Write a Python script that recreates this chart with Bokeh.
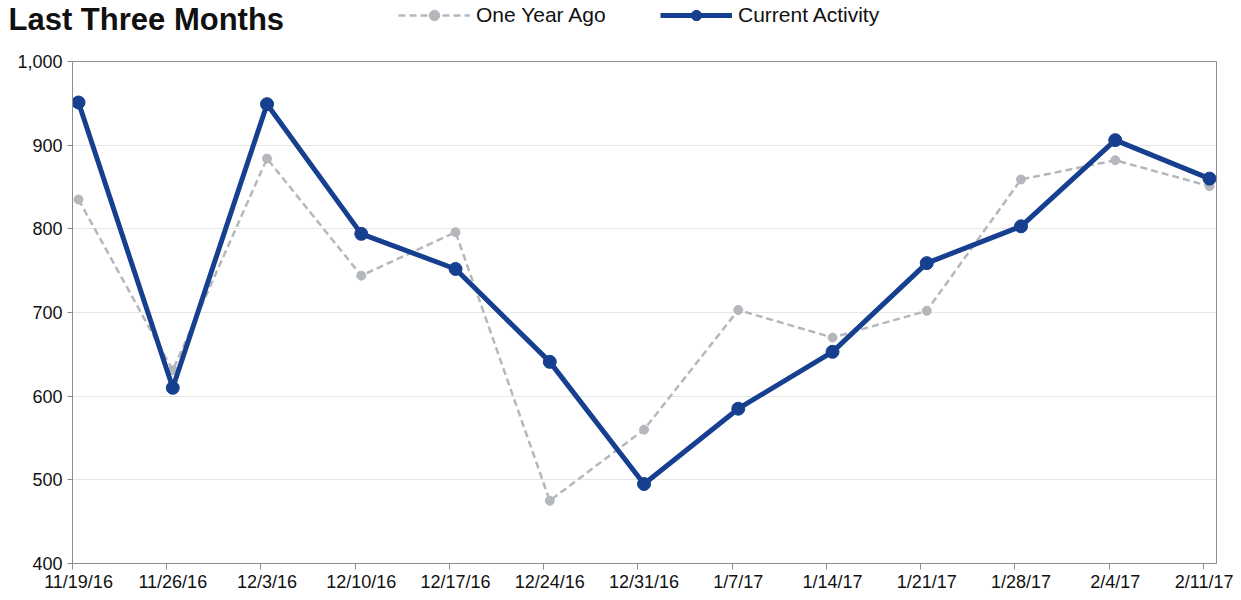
from bokeh.plotting import figure
from bokeh.layouts import column
from bokeh.models import (Legend, LegendItem, FixedTicker, NumeralTickFormatter,
                          Range1d, Label, LinearAxis, Plot)
from bokeh.embed import file_html
from bokeh.resources import INLINE

dates = ["11/19/16", "11/26/16", "12/3/16", "12/10/16", "12/17/16", "12/24/16",
         "12/31/16", "1/7/17", "1/14/17", "1/21/17", "1/28/17", "2/4/17", "2/11/17"]
current_activity = [951, 610, 949, 794, 752, 641, 495, 585, 653, 759, 803, 906, 860]
one_year_ago = [835, 631, 884, 744, 796, 475, 560, 703, 670, 702, 859, 882, 851]
y_ticks = [400, 500, 600, 700, 800, 900, 1000]

xs = list(range(len(dates)))
BLUE = "#163f8f"
GRAY = "#b4b8bd"
AXIS = "#8c8c8c"
FONT = "Liberation Sans"
W = 1233
HEADER_H = 40
HAS_FRAME_ALIGN = "frame_align" in Plot.properties()


def add_series(fig):
    l1 = fig.line(xs, one_year_ago, line_color=GRAY, line_width=2.5, line_dash="7 4")
    c1 = fig.scatter(xs, one_year_ago, size=9, fill_color=GRAY, line_color=GRAY)
    l2 = fig.line(xs, current_activity, line_color=BLUE, line_width=5)
    c2 = fig.scatter(xs, current_activity, size=13, fill_color=BLUE, line_color=BLUE)
    return l1, c1, l2, c2


# ---- header: title + legend (series drawn out of view, used for legend glyphs)
h = figure(width=W, height=HEADER_H, output_backend="svg", toolbar_location=None,
           x_range=Range1d(-0.064, 12.074), y_range=Range1d(0, 1),
           x_axis_location=None, y_axis_location=None,
           min_border_left=0, min_border_right=0, min_border_top=0, min_border_bottom=0)
h.outline_line_color = None
h.grid.visible = False
hl1, hc1, hl2, hc2 = add_series(h)
x0 = 0 if HAS_FRAME_ALIGN else 72
h.add_layout(Label(x=8 - x0, y=HEADER_H - 19, x_units="screen", y_units="screen",
                   text="Last Three Months", text_font=FONT, text_font_size="31px",
                   text_font_style="bold", text_color="#111111",
                   text_baseline="alphabetic"))
legend = Legend(items=[LegendItem(label="One Year Ago", renderers=[hl1, hc1]),
                       LegendItem(label="Current Activity", renderers=[hl2, hc2])],
                orientation="horizontal", location=(398 - x0, HEADER_H - 28),
                glyph_width=72, glyph_height=26, label_height=26, label_width=184,
                label_text_font=FONT, label_text_font_size="21px",
                label_text_color="#111111", label_text_baseline="middle",
                spacing=0, padding=0, margin=0, label_standoff=6,
                border_line_color=None, background_fill_alpha=0)
h.add_layout(legend, "center")

# ---- main chart
p = figure(width=W, height=554, output_backend="svg", toolbar_location=None,
           x_range=Range1d(-0.064, 12.074), y_range=Range1d(400, 1000),
           min_border_left=72, min_border_right=W - 1216, min_border_top=61 - HEADER_H,
           min_border_bottom=30)
if HAS_FRAME_ALIGN:
    h.frame_align = False
    p.frame_align = False
p.outline_line_color = AXIS
p.xgrid.grid_line_color = None
p.ygrid.grid_line_color = "#e6e6e6"
p.ygrid.ticker = FixedTicker(ticks=y_ticks)

# tick marks (Excel-style, slightly left of each point)
p.xaxis.ticker = FixedTicker(ticks=[x - 0.064 for x in xs])
p.xaxis.major_label_text_font_size = "1px"
p.xaxis.major_label_text_alpha = 0
p.xaxis.major_label_standoff = 0
p.xaxis.minor_tick_line_color = None
p.xaxis.major_tick_out = 6
p.xaxis.major_tick_in = 0
p.xaxis.axis_line_color = AXIS
p.xaxis.major_tick_line_color = AXIS

# date labels centred under each point
lab = LinearAxis(ticker=FixedTicker(ticks=xs),
                 major_label_overrides={i: d for i, d in enumerate(dates)},
                 axis_line_color=None, major_tick_line_color=None,
                 minor_tick_line_color=None, major_tick_out=0, major_tick_in=0,
                 major_label_standoff=2, major_label_text_font=FONT,
                 major_label_text_font_size="18px", major_label_text_color="#111111")
p.add_layout(lab, "below")

p.yaxis.ticker = FixedTicker(ticks=y_ticks)
p.yaxis.formatter = NumeralTickFormatter(format="0,0")
p.yaxis.minor_tick_line_color = None
p.yaxis.major_tick_out = 5
p.yaxis.major_tick_in = 0
p.yaxis.major_label_standoff = 5
p.yaxis.major_label_text_font = FONT
p.yaxis.major_label_text_font_size = "18px"
p.yaxis.major_label_text_color = "#111111"
p.yaxis.axis_line_color = AXIS
p.yaxis.major_tick_line_color = AXIS

add_series(p)

layout = column(h, p, spacing=0)
open("out.html", "w").write(file_html(layout, INLINE))
